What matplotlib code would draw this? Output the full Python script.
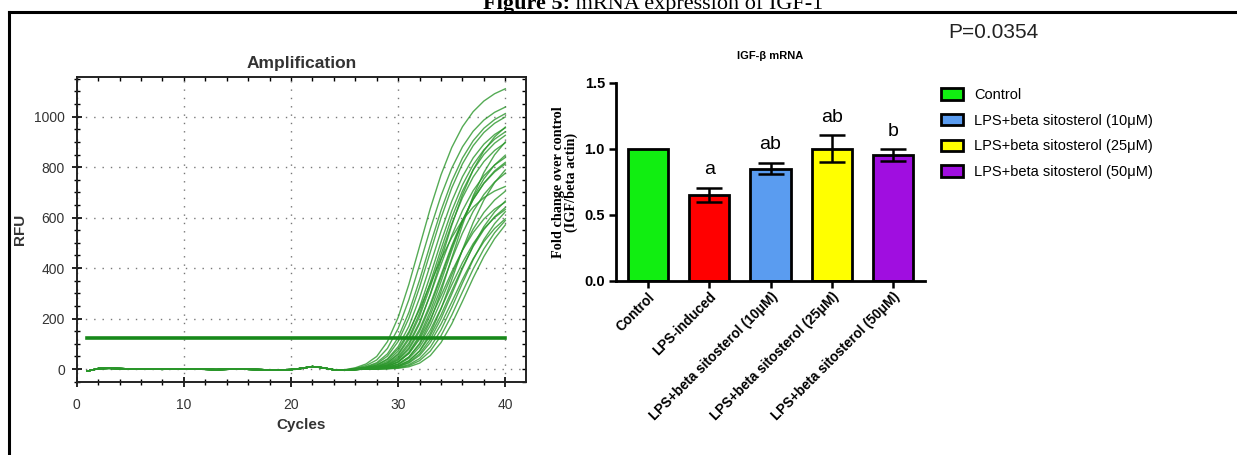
import numpy as np
import matplotlib
matplotlib.use("Agg")
import matplotlib.pyplot as plt
from matplotlib.lines import Line2D
from matplotlib.patches import Patch

plt.rcParams["font.family"] = ["Liberation Sans", "DejaVu Sans"]

# ---------------- data ----------------
# Amplification curves: threshold-crossing cycle and plateau RFU for each well
ct_values = [29.2, 29.6, 30.0, 30.2, 30.5, 30.7, 30.8, 31.0, 31.1, 31.3, 31.4, 31.6,
             31.7, 31.9, 32.0, 32.1, 32.3, 32.4, 32.6, 32.8, 32.9, 33.1, 33.3, 33.6,
             33.9, 34.3]
plateau_values = [1150, 1080, 1060, 1050, 1010, 760, 1000, 990, 960, 900, 1040, 880,
                  890, 930, 850, 720, 1010, 780, 700, 900, 720, 760, 680, 730,
                  700, 700]
rise_scale = 2.4
rise_shape = 0.3
baseline_drift = [-8, 2, 3, 2, 1, 0, 0, -1, 0, 1, 0, -1, -2, -1, 0, -1, -2, -3, -3, -2,
                  3, 10, 5, -3, -5, -2, 0, 0, 0, 0, 0, 0, 0, 0, 0, 0, 0, 0, 0, 0]
cycles = list(range(1, 41))
threshold_rfu = 125

# Bar chart
groups = ["Control", "LPS-induced", "LPS+beta sitosterol (10\u03bcM)",
          "LPS+beta sitosterol (25\u03bcM)", "LPS+beta sitosterol (50\u03bcM)"]
fold_change = [1.0, 0.65, 0.85, 1.0, 0.95]
fold_err = [0.0, 0.055, 0.045, 0.10, 0.045]
sig_letters = ["", "a", "ab", "ab", "b"]
bar_colors = ["#11ee11", "#ff0000", "#5a9cf0", "#ffff00", "#a00ee0"]
legend_idx = [0, 2, 3, 4]
p_text = "P=0.0354"

# ---------------- figure ----------------
W, H = 1237, 455
fig = plt.figure(figsize=(W / 100, H / 100), dpi=100)
fig.patch.set_facecolor("white")

def fx(px):
    return px / W

def fy(py):
    return 1 - py / H

# Frame lines
fig.add_artist(Line2D([fx(9), 1], [fy(12), fy(12)], color="black", lw=2.2))
fig.add_artist(Line2D([fx(9), fx(9)], [0, fy(12)], color="black", lw=2.2))

# Title (cropped at top in the reference)
split_x = 570
fig.text(fx(split_x), fy(9), "Figure 5:", ha="right", va="baseline",
         fontsize=16, fontweight="bold", family="Liberation Serif")
fig.text(fx(split_x), fy(9), " mRNA expression of IGF-1", ha="left", va="baseline",
         fontsize=16, family="Liberation Serif")

# ---------- left: amplification plot ----------
ax1 = fig.add_axes([fx(76.7), fy(381.7), fx(449.3), 304.4 / H])
cyc = np.array(cycles, dtype=float)
drift = np.array(baseline_drift, dtype=float)
k, nu = rise_scale, rise_shape
for ct, F in zip(ct_values, plateau_values):
    c0 = ct + k * np.log(((F / threshold_rfu) ** nu - 1) / nu)
    rfu = F / (1 + nu * np.exp(-(cyc - c0) / k)) ** (1 / nu) + drift
    ax1.plot(cyc, rfu, color="#2a962a", lw=1.0, alpha=0.8, zorder=3)
ax1.plot([cycles[0], cycles[-1]], [threshold_rfu, threshold_rfu], color="#17881a",
         lw=2.6, zorder=4)

ax1.set_xlim(0, 41.93)
ax1.set_ylim(-49, 1156)
ax1.set_xticks([0, 10, 20, 30, 40])
ax1.set_xticks(np.arange(0, 41, 2), minor=True)
ax1.set_yticks([0, 200, 400, 600, 800, 1000])
ax1.set_yticks(np.arange(-50, 1151, 50), minor=True)
ax1.grid(True, which="major", color="#777777", lw=1.0, linestyle=(0, (1, 5)))
ax1.tick_params(which="major", direction="inout", length=7, width=1.2,
                labelsize=10, labelcolor="#333333", pad=5)
ax1.tick_params(axis="x", which="major", pad=8)
ax1.tick_params(which="minor", direction="inout", length=4.5, width=1.0)
for s in ax1.spines.values():
    s.set_linewidth(1.4)
    s.set_color("#222222")
secx = ax1.secondary_xaxis("top")
secx.set_xticks(np.arange(0, 41, 2))
secx.tick_params(direction="in", length=3, labeltop=False, width=1.0)
secy = ax1.secondary_yaxis("right")
secy.set_yticks(np.arange(-50, 1151, 50))
secy.tick_params(direction="in", length=3, labelright=False, width=1.0)
for a in (secx, secy):
    for s in a.spines.values():
        s.set_visible(False)

ax1.set_title("Amplification", fontsize=12.5, fontweight="bold", color="#333333",
              family=["Liberation Sans Narrow", "Liberation Sans"], pad=7)
ax1.set_xlabel("Cycles", fontsize=11, fontweight="bold", color="#333333")
ax1.set_ylabel("RFU", fontsize=11, fontweight="bold", color="#333333")
ax1.xaxis.set_label_coords(0.5, -0.12)
ax1.yaxis.set_label_coords(-0.11, 0.5)

# ---------- right: bar chart ----------
ax2 = fig.add_axes([fx(616), fy(280.7), fx(309), 198 / H])
xpos = np.arange(len(groups))
ax2.bar(xpos, fold_change, width=0.66, color=bar_colors, edgecolor="black",
        linewidth=2.0, zorder=2)
ax2.errorbar(xpos[1:], fold_change[1:], yerr=fold_err[1:], fmt="none",
             ecolor="black", elinewidth=1.8, capsize=9.5, capthick=1.8, zorder=3)
for x, v, e, t in zip(xpos, fold_change, fold_err, sig_letters):
    if t:
        ax2.text(x, v + e + 0.1, t, ha="center", va="baseline", fontsize=14)
ax2.set_xlim(-0.52, 4.52)
ax2.set_ylim(0, 1.5)
ax2.set_yticks([0.0, 0.5, 1.0, 1.5])
ax2.set_yticklabels(["0.0", "0.5", "1.0", "1.5"])
ax2.set_xticks(xpos)
ax2.set_xticklabels(groups, rotation=45, ha="right", rotation_mode="anchor")
ax2.tick_params(axis="both", direction="out", length=5, width=1.8, pad=3)
ax2.tick_params(axis="x", pad=1.5)
for lab in ax2.get_yticklabels():
    lab.set_fontweight("bold")
    lab.set_fontsize(10.5)
for lab in ax2.get_xticklabels():
    lab.set_fontweight("bold")
    lab.set_fontsize(9.8)
ax2.spines["top"].set_visible(False)
ax2.spines["right"].set_visible(False)
ax2.spines["left"].set_linewidth(2.0)
ax2.spines["bottom"].set_linewidth(2.0)
ax2.set_title("IGF-\u03b2 mRNA", fontsize=8, fontweight="bold", pad=17)

fig.text(fx(565), fy(182), "Fold change over control\n(IGF/beta actin)", rotation=90,
         ha="center", va="center", multialignment="center", fontsize=10.3,
         fontweight="bold", family="Liberation Serif", linespacing=1.0)

handles = [Patch(facecolor=bar_colors[i], edgecolor="black", linewidth=2.0)
           for i in legend_idx]
labels = [groups[i] for i in legend_idx]
fig.legend(handles, labels, loc="upper left", bbox_to_anchor=(fx(941), fy(88)),
           frameon=False, handlelength=1.5, handleheight=0.8,
           handletextpad=0.75, labelspacing=0.8, borderpad=0, borderaxespad=0,
           prop={"family": "Liberation Sans", "size": 10.5})

fig.text(fx(948), fy(33), p_text, ha="left", va="center", fontsize=15,
         color="#222222")

fig.savefig("out.png", dpi=100, facecolor="white")
